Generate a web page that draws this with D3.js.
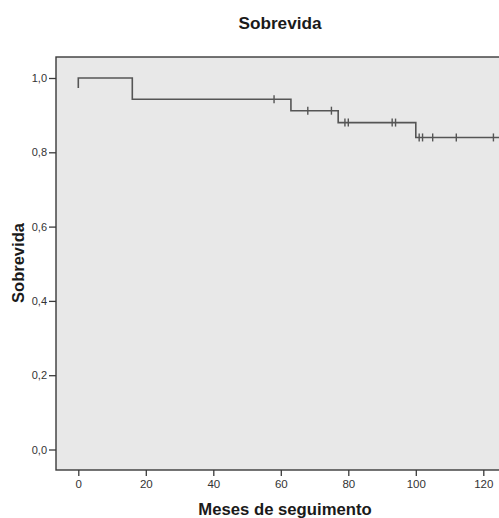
<!DOCTYPE html>
<html>
<head>
<meta charset="utf-8">
<script src="https://cdn.jsdelivr.net/npm/d3@7"></script>
<style>
  html, body { margin: 0; padding: 0; background: #fff; }
  svg { display: block; }
  text { font-family: "Liberation Sans", Arial, sans-serif; }
</style>
</head>
<body>
<svg id="chart" width="499" height="518"></svg>
<script>
// ---- data ----
const title = "Sobrevida";
const xLabel = "Meses de seguimento";
const yLabel = "Sobrevida";
const xTicks = [0, 20, 40, 60, 80, 100, 120];
const yTicks = [0, 0.2, 0.4, 0.6, 0.8, 1.0];
// Kaplan-Meier step points (time, survival)
const stepTimes = [0, 0, 16, 63, 77, 100, 126];
const stepSurv  = [0.973, 1.0, 0.943, 0.912, 0.880, 0.840, 0.840];
// censored observations (time)
const censorTimes = [58, 68, 75, 79, 80, 93, 94, 101, 102, 105, 112, 123];

// ---- layout ----
const svg = d3.select("#chart");
const frame = { left: 56, top: 57, right: 520, bottom: 470 };
const x = d3.scaleLinear().domain([0, 120]).range([78.3, 483.3]);
const y = d3.scaleLinear().domain([0, 1]).range([449.5, 78]);

// plot background
svg.append("rect")
  .attr("x", frame.left).attr("y", frame.top)
  .attr("width", frame.right - frame.left).attr("height", frame.bottom - frame.top)
  .attr("fill", "#e8e8e8").attr("stroke", "#3a3a3a").attr("stroke-width", 1.4);

// title
svg.append("text").attr("x", 280).attr("y", 29)
  .attr("text-anchor", "middle").attr("font-size", 17.2).attr("font-weight", "bold")
  .attr("fill", "#1a1a1a").text(title);

// axes
const fmt = d => d3.format(".1f")(d).replace(".", ",");
const yAxis = svg.append("g").attr("transform", `translate(${frame.left},0)`)
  .call(d3.axisLeft(y).tickValues(yTicks).tickFormat(fmt).tickSize(7).tickSizeOuter(0).tickPadding(2));
yAxis.select(".domain").remove();
yAxis.selectAll("line").attr("stroke", "#3a3a3a").attr("stroke-width", 1.3);
yAxis.selectAll("text").attr("font-size", 11).attr("fill", "#333")
  .style("font-family", "'Liberation Sans', Arial, sans-serif");

const xAxis = svg.append("g").attr("transform", `translate(0,${frame.bottom})`)
  .call(d3.axisBottom(x).tickValues(xTicks).tickFormat(d3.format("d")).tickSize(6).tickSizeOuter(0).tickPadding(4));
xAxis.select(".domain").remove();
xAxis.selectAll("line").attr("stroke", "#3a3a3a").attr("stroke-width", 1.3);
xAxis.selectAll("text").attr("font-size", 11.5).attr("fill", "#333")
  .style("font-family", "'Liberation Sans', Arial, sans-serif");

// axis labels
svg.append("text").attr("x", 285).attr("y", 515)
  .attr("text-anchor", "middle").attr("font-size", 16.7).attr("font-weight", "bold")
  .attr("fill", "#1a1a1a").text(xLabel);
svg.append("text").attr("transform", "translate(24,263) rotate(-90)")
  .attr("text-anchor", "middle").attr("font-size", 16.5).attr("font-weight", "bold")
  .attr("fill", "#1a1a1a").text(yLabel);

// KM step curve
const pts = stepTimes.map((t, i) => [t, stepSurv[i]]);
const line = d3.line().x(d => x(d[0])).y(d => y(d[1])).curve(d3.curveStepAfter);
svg.append("path").datum(pts).attr("d", line)
  .attr("fill", "none").attr("stroke", "#555").attr("stroke-width", 1.6);

// censor marks
function survAt(t) {
  let s = stepSurv[0];
  for (let i = 0; i < stepTimes.length; i++) if (stepTimes[i] <= t) s = stepSurv[i];
  return s;
}
svg.append("g").selectAll("line").data(censorTimes).join("line")
  .attr("x1", d => x(d)).attr("x2", d => x(d))
  .attr("y1", d => y(survAt(d)) - 4).attr("y2", d => y(survAt(d)) + 4)
  .attr("stroke", "#555").attr("stroke-width", 1.4);
</script>
</body>
</html>
